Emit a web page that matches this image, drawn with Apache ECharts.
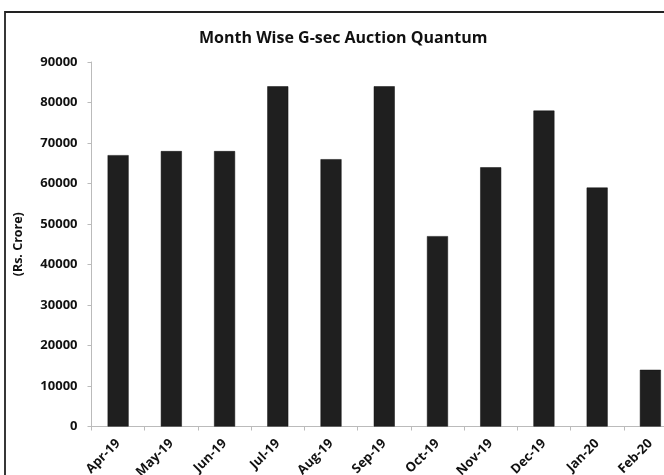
<!DOCTYPE html>
<html>
<head>
<meta charset="utf-8">
<script src="https://cdn.jsdelivr.net/npm/echarts@6/dist/echarts.min.js"></script>
<style>
  html, body { margin: 0; padding: 0; background: #fff; }
  #chart { width: 664px; height: 475px; }
</style>
</head>
<body>
<div id="chart"></div>
<script>
  // month categories and auction amounts (Rs. Crore)
  var months = ['Apr-19', 'May-19', 'Jun-19', 'Jul-19', 'Aug-19', 'Sep-19', 'Oct-19', 'Nov-19', 'Dec-19', 'Jan-20', 'Feb-20'];
  var quantum = [67000, 68000, 68000, 84000, 66000, 84000, 47000, 64000, 78000, 59000, 14000];

  var chart = echarts.init(document.getElementById('chart'));
  var font = '"Open Sans", "DejaVu Sans", sans-serif';

  chart.setOption({
    animation: false,
    backgroundColor: '#fff',
    title: {
      text: 'Month Wise G-sec Auction Quantum',
      left: 194,
      top: 25,
      textStyle: { fontFamily: font, fontSize: 16, fontWeight: 'bold', color: '#111' }
    },
    graphic: [{
      type: 'rect',
      shape: { x: 5, y: 12, width: 720, height: 520 },
      style: { fill: 'none', stroke: '#222', lineWidth: 1.8 },
      silent: true
    }],
    grid: { left: 91.5, top: 62, width: 585.5, height: 364.5, outerBoundsMode: 'none', containLabel: false },
    xAxis: {
      type: 'category',
      data: months,
      axisLine: { lineStyle: { color: '#bbb' } },
      axisTick: { show: true, length: 4, lineStyle: { color: '#bbb' } },
      axisLabel: {
        rotate: 45,
        interval: 0,
        margin: 15,
        color: '#111',
        fontFamily: font,
        fontSize: 13,
        fontWeight: 'bold'
      }
    },
    yAxis: {
      type: 'value',
      min: 0,
      max: 90000,
      interval: 10000,
      name: '(Rs. Crore)',
      nameLocation: 'middle',
      nameGap: 67,
      nameTextStyle: { fontFamily: font, fontSize: 12.5, fontWeight: 'bold', color: '#111' },
      axisLine: { show: true, lineStyle: { color: '#bbb' } },
      axisTick: { show: true, length: 4, lineStyle: { color: '#bbb' } },
      splitLine: { show: false },
      axisLabel: {
        margin: 14,
        color: '#111',
        fontFamily: font,
        fontSize: 13,
        fontWeight: 'bold',
        formatter: function (v) { return String(v); }
      }
    },
    series: [{
      type: 'bar',
      data: quantum,
      barWidth: 21,
      itemStyle: { color: '#1f1f1f', borderColor: '#111', borderWidth: 0.5 }
    }]
  });
</script>
</body>
</html>
